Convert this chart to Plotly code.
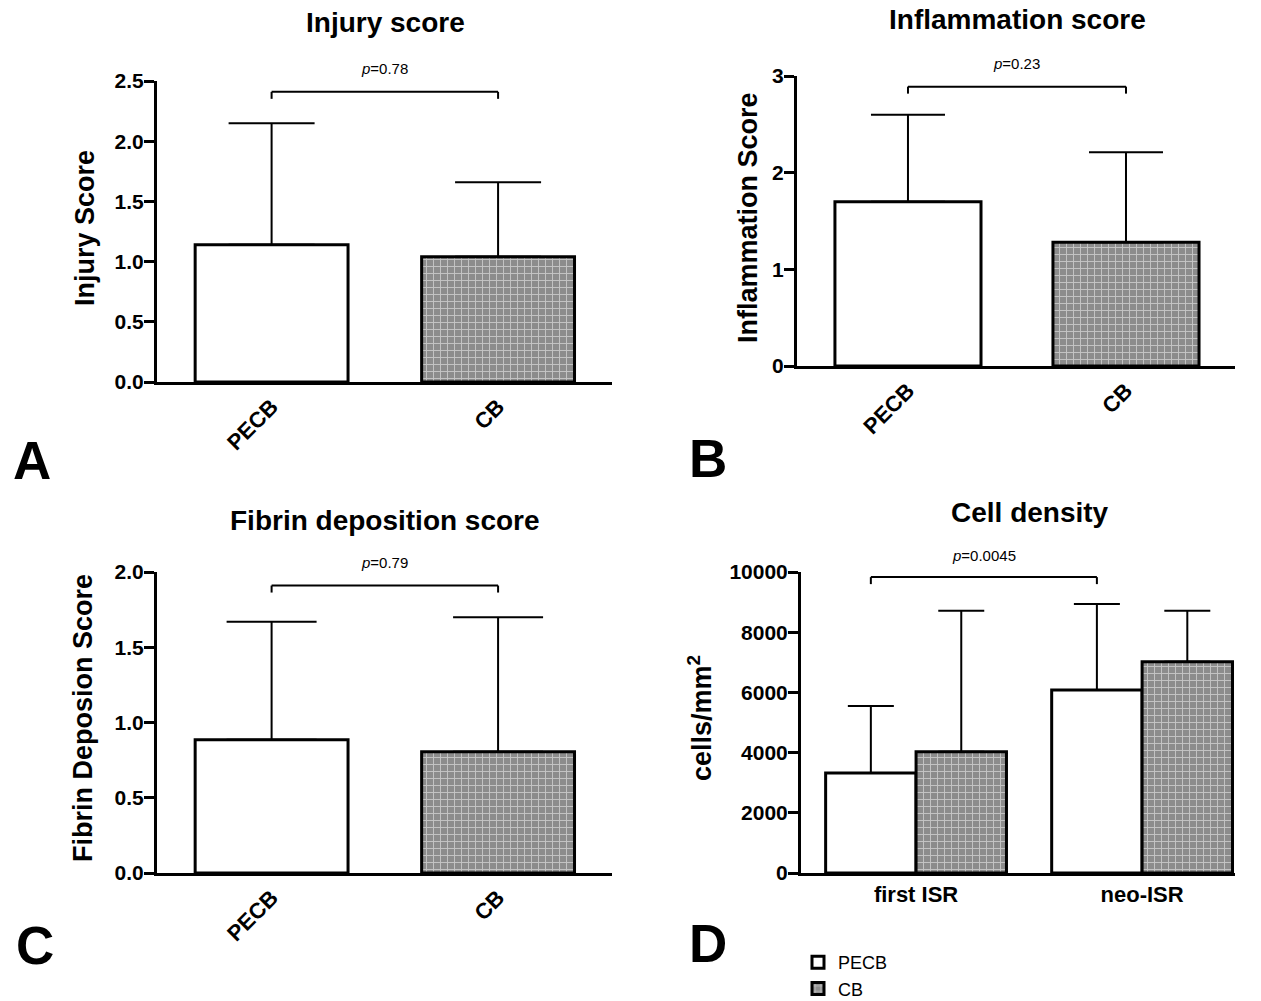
import plotly.graph_objects as go

# ---------------- data ----------------
groups = ["PECB", "CB"]

injury_mean = [1.14, 1.04]
injury_err = [1.01, 0.62]
injury_p = "0.78"
injury_bracket = 2.41

inflam_mean = [1.70, 1.28]
inflam_err = [0.90, 0.93]
inflam_p = "0.23"
inflam_bracket = 2.89

fibrin_mean = [0.885, 0.805]
fibrin_err = [0.785, 0.895]
fibrin_p = "0.79"
fibrin_bracket = 1.91

density_cats = ["first ISR", "neo-ISR"]
density_pecb_mean = [3320, 6080]
density_pecb_err = [2230, 2860]
density_cb_mean = [4030, 7020]
density_cb_err = [4680, 1690]
density_p = "0.0045"
density_bracket = 9830

W, H = 1261, 1001
FONT = "Arial, Liberation Sans, Helvetica, sans-serif"
GRAY = "#8c8c8c"

brick = dict(shape="+", bgcolor=GRAY, fgcolor="white", size=7, solidity=0.25)
plain = dict(shape="")


def px_x(p):
    return p / W


def px_y(p):
    return 1 - p / H


fig = go.Figure()

panels = {
    "A": dict(ax="", xd=(157, 612), yd=(382, 81), yr=[0, 2.5], xr=[-0.506, 1.503],
              dt=0.5, bw=0.675, cap=43, mean=injury_mean, err=injury_err,
              p=injury_p, br=injury_bracket, fmt=".1f"),
    "B": dict(ax="2", xd=(797, 1235), yd=(366, 76), yr=[0, 3], xr=[-0.509, 1.5],
              dt=1, bw=0.67, cap=37, mean=inflam_mean, err=inflam_err,
              p=inflam_p, br=inflam_bracket, fmt="d"),
    "C": dict(ax="3", xd=(157, 612), yd=(873, 572), yr=[0, 2.0], xr=[-0.506, 1.503],
              dt=0.5, bw=0.675, cap=45, mean=fibrin_mean, err=fibrin_err,
              p=fibrin_p, br=fibrin_bracket, fmt=".1f"),
}

layout_axes = {}
shapes = []
annotations = []

axis_common = dict(showline=True, linewidth=3, linecolor="black", showgrid=False,
                   zeroline=False, mirror=False)
tickfont = dict(family=FONT, size=21, color="black", weight="bold")
catfont = dict(family=FONT, size=22, color="black", weight="bold")
ytick_style = dict(ticks="outside", ticklen=10, tickwidth=3, tickcolor="black",
                   ticklabelstandoff=-4, tickfont=tickfont)


def bracket(xref, yref, x0, x1, y, tick):
    shapes.append(dict(type="line", xref=xref, yref=yref, x0=x0, x1=x1, y0=y, y1=y,
                       line=dict(color="black", width=2)))
    for xx in (x0, x1):
        shapes.append(dict(type="line", xref=xref, yref=yref, x0=xx, x1=xx, y0=y, y1=y - tick,
                           line=dict(color="black", width=2)))


for key, pnl in panels.items():
    ax = pnl["ax"]
    xa, ya = "x" + ax, "y" + ax
    styles = [plain, brick]
    for i, g in enumerate(groups):
        fig.add_trace(go.Bar(
            x=[g], y=[pnl["mean"][i]], width=pnl["bw"], xaxis=xa, yaxis=ya,
            marker=dict(color="white" if i == 0 else GRAY, pattern=styles[i],
                        line=dict(color="black", width=3)),
            error_y=dict(type="data", symmetric=False, array=[pnl["err"][i]],
                         arrayminus=[0], color="black", thickness=2, width=pnl["cap"]),
            showlegend=False, name=g))
    xd, yd = pnl["xd"], pnl["yd"]
    layout_axes["xaxis" + ax] = dict(
        axis_common, domain=[px_x(xd[0]), px_x(xd[1])], anchor=ya, range=pnl["xr"],
        type="category", categoryarray=groups, ticks="", tickangle=-45,
        tickfont=catfont)
    layout_axes["yaxis" + ax] = dict(
        axis_common, domain=[px_y(yd[0]), px_y(yd[1])], anchor=xa, range=pnl["yr"],
        dtick=pnl["dt"], tick0=0, tickformat=pnl["fmt"], **ytick_style)
    hpx = yd[0] - yd[1]
    tick = 7 * (pnl["yr"][1] - pnl["yr"][0]) / hpx
    bracket(xa, ya, 0, 1, pnl["br"], tick)
    annotations.append(dict(xref=xa, yref=ya, x=0.5, y=pnl["br"], yshift=23,
                            text="<i>p</i>=" + pnl["p"], showarrow=False,
                            font=dict(family=FONT, size=15, color="black")))

# panel D
for i, (name, mean, err) in enumerate([("PECB", density_pecb_mean, density_pecb_err),
                                        ("CB", density_cb_mean, density_cb_err)]):
    fig.add_trace(go.Bar(
        x=density_cats, y=mean, width=0.4, offset=-0.4 if i == 0 else 0,
        xaxis="x4", yaxis="y4", name=name,
        marker=dict(color="white" if i == 0 else GRAY, pattern=plain if i == 0 else brick,
                    line=dict(color="black", width=3)),
        error_y=dict(type="data", symmetric=False, array=err, arrayminus=[0, 0],
                     color="black", thickness=2, width=23),
        showlegend=True))

layout_axes["xaxis4"] = dict(
    axis_common, domain=[px_x(801), px_x(1235)], anchor="y4", range=[-0.509, 1.411],
    type="category", categoryarray=density_cats, ticks="", tickfont=catfont)
layout_axes["yaxis4"] = dict(
    axis_common, domain=[px_y(873), px_y(572)], anchor="x4", range=[0, 10000],
    dtick=2000, tickformat="d", **ytick_style)
bracket("x4", "y4", -0.2, 0.8, density_bracket, 7 * 10000 / 301)
annotations.append(dict(xref="x4", yref="y4", x=0.3, y=density_bracket, yshift=22,
                        text="<i>p</i>=" + density_p, showarrow=False,
                        font=dict(family=FONT, size=15, color="black")))

titles = [("Injury score", 385, 22), ("Inflammation score", 1017, 20),
          ("Fibrin deposition score", 385, 520), ("Cell density", 1030, 512)]
for t, x, y in titles:
    annotations.append(dict(xref="paper", yref="paper", x=px_x(x), y=px_y(y), text=t,
                            showarrow=False, xanchor="center", yanchor="middle",
                            font=dict(family=FONT, size=28, color="black", weight="bold")))

ytitles = [("Injury Score", 85, 228), ("Inflammation Score", 748, 218),
           ("Fibrin Deposion Score", 83, 718), ("cells/mm<sup>2</sup>", 700, 718)]
for t, x, y in ytitles:
    annotations.append(dict(xref="paper", yref="paper", x=px_x(x), y=px_y(y), text=t,
                            textangle=-90, showarrow=False, xanchor="center", yanchor="middle",
                            font=dict(family=FONT, size=27, color="black", weight="bold")))

letters = [("A", 32, 460), ("B", 708, 458), ("C", 35, 945), ("D", 708, 943)]
for t, x, y in letters:
    annotations.append(dict(xref="paper", yref="paper", x=px_x(x), y=px_y(y), text=t,
                            showarrow=False, xanchor="center", yanchor="middle",
                            font=dict(family=FONT, size=53, color="black", weight="bold")))

fig.update_layout(
    width=W, height=H, margin=dict(l=0, r=0, t=0, b=0, autoexpand=False),
    paper_bgcolor="white", plot_bgcolor="white",
    barmode="overlay", shapes=shapes, annotations=annotations,
    legend=dict(x=px_x(798), y=px_y(944), xanchor="left", yanchor="top",
                font=dict(family=FONT, size=18, color="black"), tracegroupgap=0,
                itemwidth=30, bgcolor="rgba(0,0,0,0)"),
    **layout_axes)

fig.write_html("out.html", config={"displayModeBar": False},
               post_script="document.body.style.margin='0px';")
